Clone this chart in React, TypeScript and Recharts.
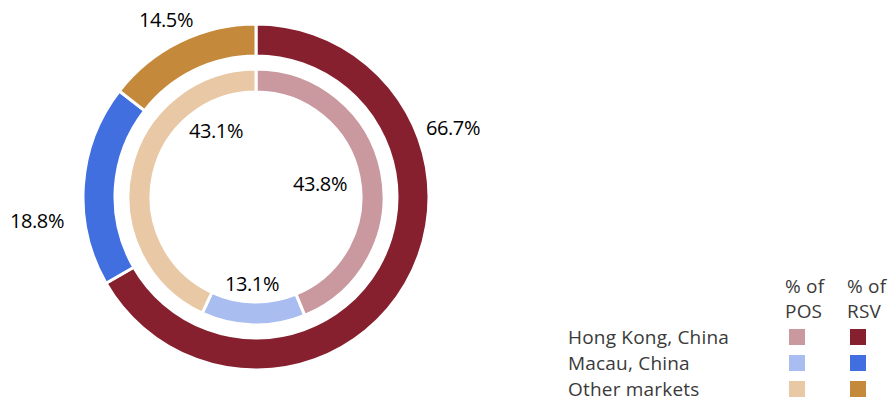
import { Legend, Pie, PieChart } from "recharts";

const MARKETS = ["Hong Kong, China", "Macau, China", "Other markets"];
const RSV_SHARE = [66.7, 18.8, 14.5];
const POS_SHARE = [43.8, 13.1, 43.1];

const RSV_COLORS = ["#86202f", "#416fe0", "#c5893c"];
const POS_COLORS = ["#c9999f", "#aabdf0", "#e8c8a5"];

// label placement (offset from the pie centre), tuned by eye
const RSV_LABEL_POS = [
  [197, -70],
  [-219, 23],
  [-90, -178],
];
const POS_LABEL_POS = [
  [64, -14],
  [-4, 86],
  [-40, -67],
];

const rsvData = MARKETS.map((name, i) => ({
  name,
  value: RSV_SHARE[i],
  fill: RSV_COLORS[i],
}));
const posData = MARKETS.map((name, i) => ({
  name,
  value: POS_SHARE[i],
  fill: POS_COLORS[i],
}));

const labelFont = "'Open Sans', sans-serif";

function makeLabel(offsets: number[][]) {
  return (props: any) => {
    const { cx, cy, index, value } = props;
    const [dx, dy] = offsets[index];
    return (
      <text
        x={cx + dx}
        y={cy + dy}
        textAnchor="middle"
        dominantBaseline="central"
        fill="#000"
        fontSize={20}
        letterSpacing={-0.4}
        fontFamily={labelFont}
      >
        {`${value.toFixed(1)}%`}
      </text>
    );
  };
}

function MarketLegend() {
  const swatch = (color: string, ml: number) => (
    <div
      style={{ width: 16, height: 16, background: color, marginLeft: ml }}
    />
  );
  return (
    <div
      style={{
        fontFamily: labelFont,
        fontSize: 19,
        letterSpacing: 0.2,
        color: "#3a3a3a",
        width: 322,
      }}
    >
      <div style={{ display: "flex", lineHeight: "25px" }}>
        <div style={{ width: 217 }} />
        <div style={{ width: 62 }}>
          % of
          <br />
          POS
        </div>
        <div>
          % of
          <br />
          RSV
        </div>
      </div>
      {MARKETS.map((m, i) => (
        <div
          key={m}
          style={{ display: "flex", alignItems: "center", height: 26 }}
        >
          <div style={{ width: 217, whiteSpace: "nowrap" }}>{m}</div>
          <div style={{ width: 62 }}>{swatch(POS_COLORS[i], 4)}</div>
          <div>{swatch(RSV_COLORS[i], 3)}</div>
        </div>
      ))}
    </div>
  );
}

export default function App() {
  return (
    <div style={{ width: 890, height: 400, background: "#fff" }}>
      <style>{`body{margin:0}`}</style>
      <PieChart
        width={890}
        height={400}
        margin={{ top: 0, right: 0, bottom: 0, left: 0 }}
      >
        <Pie
          data={rsvData}
          dataKey="value"
          nameKey="name"
          cx={256}
          cy={197}
          innerRadius={141}
          outerRadius={173}
          startAngle={90}
          endAngle={-270}
          stroke="#fff"
          strokeWidth={3}
          label={makeLabel(RSV_LABEL_POS)}
          labelLine={false}
          isAnimationActive={false}
        />
        <Pie
          data={posData}
          dataKey="value"
          nameKey="name"
          cx={256}
          cy={197}
          innerRadius={105}
          outerRadius={128}
          startAngle={90}
          endAngle={-270}
          stroke="#fff"
          strokeWidth={3}
          label={makeLabel(POS_LABEL_POS)}
          labelLine={false}
          isAnimationActive={false}
        />
        <Legend
          content={() => <MarketLegend />}
          wrapperStyle={{ position: "absolute", left: 568, top: 274, width: 322 }}
        />
      </PieChart>
    </div>
  );
}
